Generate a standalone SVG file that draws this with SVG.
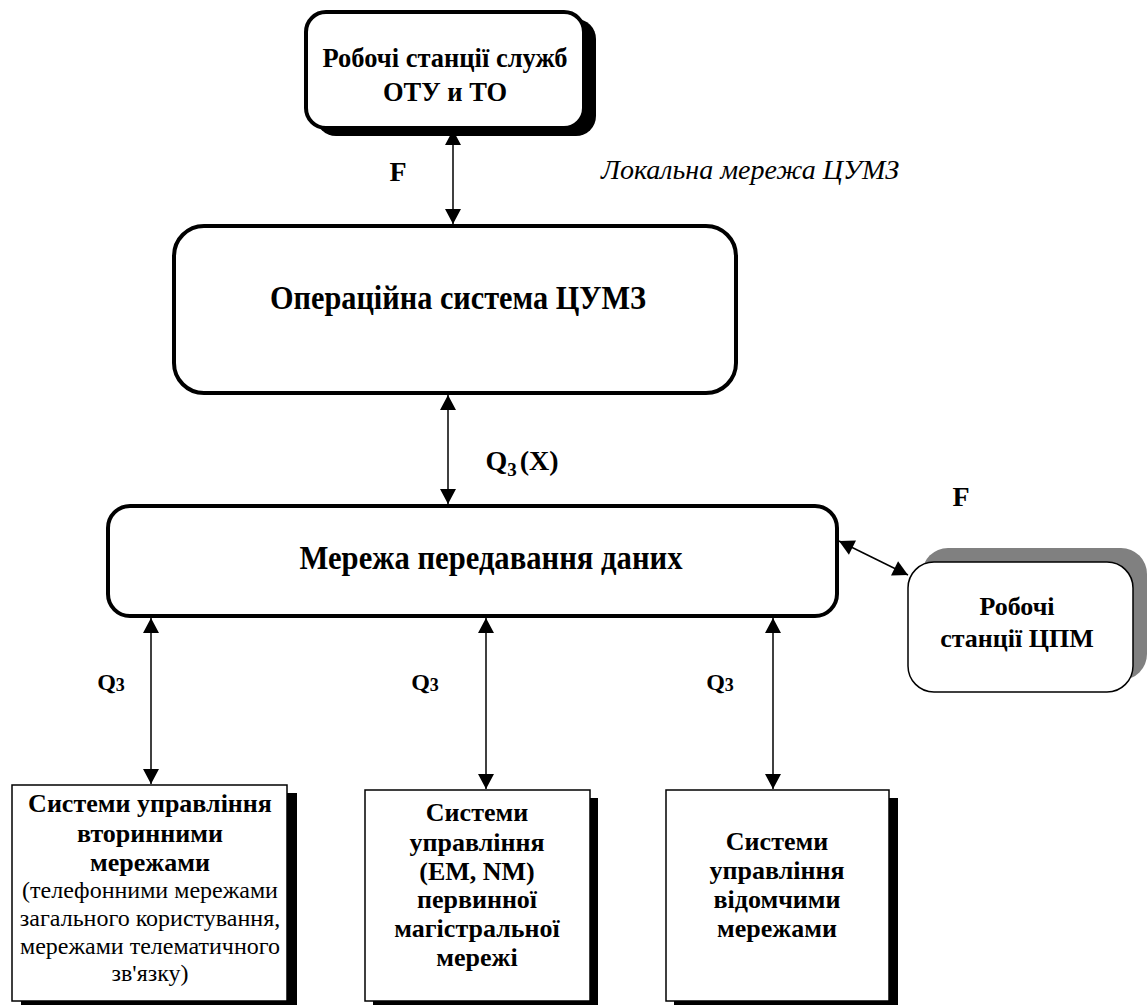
<svg xmlns="http://www.w3.org/2000/svg" width="1148" height="1005" viewBox="0 0 1148 1005" font-family="Liberation Serif, Times New Roman, serif">
<style>
text{fill:#000;text-anchor:middle}
.b{font-weight:bold}
.thick{fill:#fff;stroke:#000;stroke-width:4}
.thin{fill:#fff;stroke:#000;stroke-width:1.5}
.sh{fill:#000}
.conn{stroke:#000;stroke-width:1.5;fill:none;marker-start:url(#ah);marker-end:url(#ah)}
</style>
<defs>
<marker id="ah" markerUnits="userSpaceOnUse" markerWidth="16" markerHeight="16" viewBox="0 0 15 16" refX="15" refY="8" orient="auto-start-reverse">
<path d="M0,0 L15,8 L0,16 Z" fill="#000"/>
</marker>
</defs>
<rect width="1148" height="1005" fill="#fff"/>

<g id="node-top">
<rect class="sh" x="316" y="19" width="280" height="117" rx="20"/>
<rect class="thick" x="306" y="12" width="278" height="116" rx="20"/>
<text class="b" x="445" y="67" font-size="26.5">Робочі станції служб</text>
<text class="b" x="445" y="101" font-size="26.5">ОТУ и ТО</text>
</g>

<g id="node-os">
<rect class="thick" x="174" y="226" width="562" height="167" rx="30"/>
<text class="b" x="458" y="309" font-size="33" textLength="376" lengthAdjust="spacingAndGlyphs">Операційна система ЦУМЗ</text>
</g>

<g id="node-net">
<rect class="thick" x="108" y="506" width="729" height="110" rx="22"/>
<text class="b" x="491" y="569" font-size="33" textLength="383" lengthAdjust="spacingAndGlyphs">Мережа передавання даних</text>
</g>

<g id="node-cpm">
<rect x="922" y="548" width="225" height="132" rx="26" fill="#808080"/>
<rect class="thin" x="908" y="562" width="225" height="130" rx="26"/>
<text class="b" x="1017" y="615" font-size="26">Робочі</text>
<text class="b" x="1017" y="647" font-size="26">станції ЦПМ</text>
</g>

<g id="node-sec">
<rect class="sh" x="21" y="793" width="276" height="212"/>
<rect class="thin" x="12" y="785" width="275" height="216"/>
<text class="b" x="150" y="812" font-size="26">Системи управління</text>
<text class="b" x="150" y="842" font-size="26">вторинними</text>
<text class="b" x="150" y="871" font-size="26">мережами</text>
<text x="150" y="898" font-size="24">(телефонними мережами</text>
<text x="150" y="926" font-size="24">загального користування,</text>
<text x="150" y="954" font-size="24">мережами телематичного</text>
<text x="150" y="981" font-size="24">зв'язку)</text>
</g>

<g id="node-prim">
<rect class="sh" x="373" y="798" width="225" height="207"/>
<rect class="thin" x="365" y="790" width="225" height="211"/>
<text class="b" x="477" y="821" font-size="26">Системи</text>
<text class="b" x="477" y="851" font-size="26">управління</text>
<text class="b" x="477" y="880" font-size="26">(EM, NM)</text>
<text class="b" x="477" y="908" font-size="26">первинної</text>
<text class="b" x="477" y="937" font-size="26">магістральної</text>
<text class="b" x="477" y="966" font-size="26">мережі</text>
</g>

<g id="node-dept">
<rect class="sh" x="674" y="798" width="224" height="207"/>
<rect class="thin" x="666" y="790" width="223" height="211"/>
<text class="b" x="777" y="850" font-size="26">Системи</text>
<text class="b" x="777" y="879" font-size="26">управління</text>
<text class="b" x="777" y="908" font-size="26">відомчими</text>
<text class="b" x="777" y="937" font-size="26">мережами</text>
</g>

<g id="connectors">
<line class="conn" x1="453" y1="130" x2="453" y2="224"/>
<line class="conn" x1="448" y1="395" x2="448" y2="504"/>
<line class="conn" x1="839" y1="541" x2="908" y2="575"/>
<line class="conn" x1="151" y1="618" x2="151" y2="784"/>
<line class="conn" x1="486" y1="618" x2="486" y2="789"/>
<line class="conn" x1="773" y1="618" x2="773" y2="789"/>
</g>

<g id="labels">
<text class="b" x="398" y="181" font-size="28">F</text>
<text x="750" y="179" font-size="28" font-style="italic">Локальна мережа ЦУМЗ</text>
<text class="b" x="522" y="470" font-size="28">Q<tspan font-size="19" dy="6">3</tspan><tspan dy="-6" dx="3">(X)</tspan></text>
<text class="b" x="961" y="506" font-size="28">F</text>
<text class="b" x="111" y="690" font-size="24">Q<tspan font-size="18" dy="1">3</tspan></text>
<text class="b" x="425" y="690" font-size="24">Q<tspan font-size="18" dy="1">3</tspan></text>
<text class="b" x="720" y="690" font-size="24">Q<tspan font-size="18" dy="1">3</tspan></text>
</g>
</svg>
